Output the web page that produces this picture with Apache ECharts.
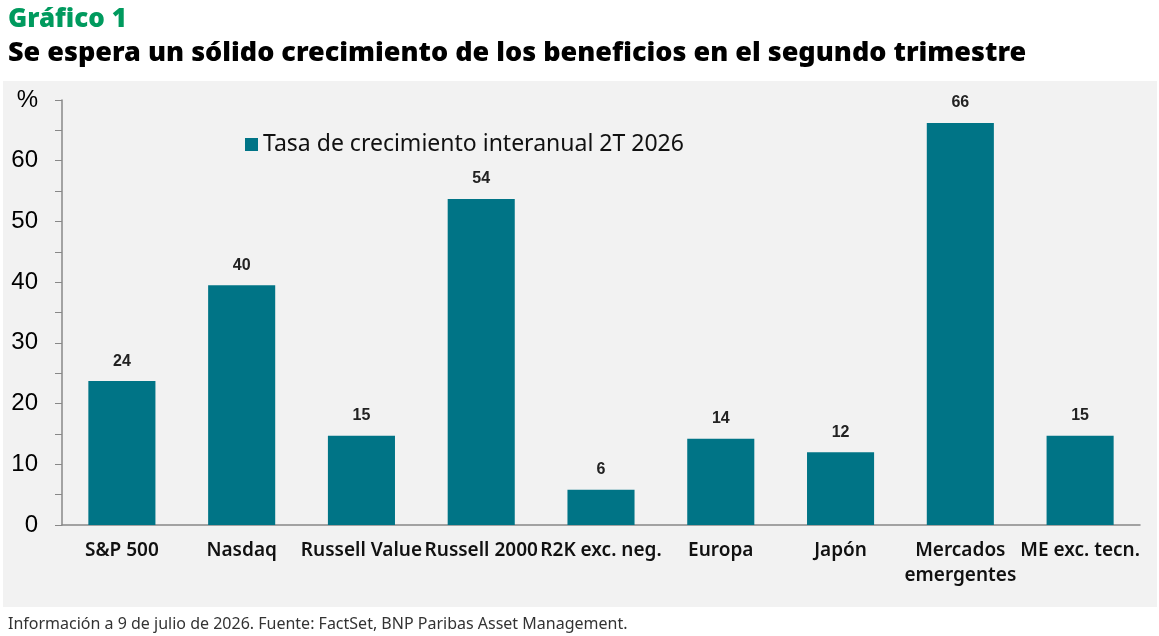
<!DOCTYPE html>
<html>
<head>
<meta charset="utf-8">
<script src="https://cdn.jsdelivr.net/npm/echarts@6/dist/echarts.min.js"></script>
<style>
  html, body { margin: 0; padding: 0; background: #fff; }
  #chart { width: 1159px; height: 636px; }
</style>
</head>
<body>
<div id="chart"></div>
<script>
// categories and values
const categories = ['S&P 500', 'Nasdaq', 'Russell Value', 'Russell 2000', 'R2K exc. neg.',
  'Europa', 'Japón', 'Mercados\nemergentes', 'ME exc. tecn.'];
const growth = [23.7, 39.5, 14.7, 53.7, 5.8, 14.2, 12.0, 66.2, 14.7];
const seriesName = 'Tasa de crecimiento interanual 2T 2026';

const chart = echarts.init(document.getElementById('chart'));
const option = {
  animation: false,
  backgroundColor: '#fff',
  graphic: [{
    type: 'rect', z: -10, silent: true,
    shape: { x: 3, y: 81, width: 1154, height: 526 },
    style: { fill: '#f2f2f2' }
  }],
  title: [
    {
      text: 'Gráfico 1', left: 3, top: 2,
      textStyle: { fontFamily: 'Noto Sans', fontSize: 26, fontWeight: 900, color: '#009a5e' }
    },
    {
      text: 'Se espera un sólido crecimiento de los beneficios en el segundo trimestre', left: 3, top: 35,
      textStyle: { fontFamily: 'Noto Sans', fontSize: 27, fontWeight: 900, color: '#000' }
    },
    {
      text: 'Información a 9 de julio de 2026. Fuente: FactSet, BNP Paribas Asset Management.', left: 3, top: 611,
      textStyle: { fontFamily: 'Noto Sans', fontSize: 16, fontWeight: 'normal', color: '#333' }
    }
  ],
  legend: {
    left: 240, top: 128,
    icon: 'rect', itemWidth: 13, itemHeight: 13, itemGap: 8,
    textStyle: { fontFamily: 'Noto Sans', fontSize: 23, color: '#111' },
    data: [seriesName]
  },
  grid: { left: 62, right: 19, top: 100, bottom: 111 },
  xAxis: {
    type: 'category',
    data: categories,
    axisLine: { lineStyle: { color: '#888', width: 1.5 } },
    axisTick: { length: 6, lineStyle: { color: '#888' } },
    axisLabel: {
      interval: 0, margin: 13, color: '#111',
      fontFamily: 'Noto Sans', fontSize: 19, fontWeight: 600, lineHeight: 25
    }
  },
  yAxis: {
    type: 'value', min: 0, max: 70, interval: 5,
    splitLine: { show: false },
    axisLine: { show: true, lineStyle: { color: '#888', width: 1.5 } },
    axisTick: { show: true, length: 7, lineStyle: { color: '#888' } },
    axisLabel: {
      margin: 24, color: '#000', fontFamily: 'Liberation Sans', fontSize: 24,
      formatter: v => v === 70 ? '%' : (v % 10 === 0 ? String(v) : '')
    }
  },
  series: [{
    name: seriesName,
    type: 'bar',
    data: growth,
    barWidth: '56%',
    itemStyle: { color: '#007486' },
    label: {
      show: true, position: 'top', distance: 12,
      fontFamily: 'Liberation Sans', fontSize: 16, fontWeight: 'bold', color: '#222',
      formatter: p => Math.round(p.value)
    }
  }]
};
chart.setOption(option);
</script>
</body>
</html>
